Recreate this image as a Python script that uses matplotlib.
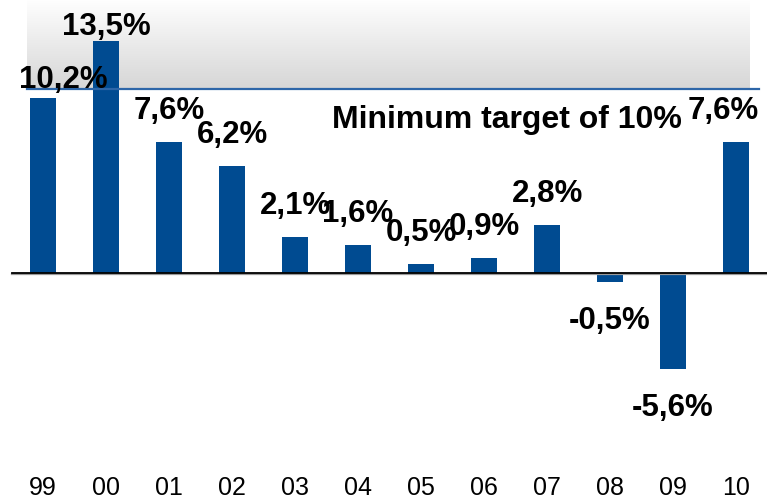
import matplotlib
matplotlib.use("Agg")
import matplotlib.pyplot as plt
import numpy as np
from matplotlib.colors import LinearSegmentedColormap

# data
years = ['99', '00', '01', '02', '03', '04', '05', '06', '07', '08', '09', '10']
growth = [10.2, 13.5, 7.6, 6.2, 2.1, 1.6, 0.5, 0.9, 2.8, -0.5, -5.6, 7.6]
target = 10.68  # where the target line sits on the value scale
target_label = 'Minimum target of 10%'

# label nudges in pixels (dx, gap from bar end)
label_dx = [20, 0, 0, 0, 0, 0, 0, 0, 0, 0, 0, -13]
label_gap = [10, 6, 23, 23, 23, 23, 23, 23, 23, 23, 23, 23]

plt.rcParams['font.family'] = ['Liberation Sans', 'DejaVu Sans']

fig = plt.figure(figsize=(7.67, 4.99), dpi=100)
ax = fig.add_axes([0, 29 / 499, 1, 470 / 499])

x = np.arange(len(years))
bar_color = '#004B91'

# shaded zone above the target
grad = np.linspace(0, 1, 256).reshape(-1, 1)
cmap = LinearSegmentedColormap.from_list('g', ['#d6d6d6', '#ffffff'])
ax.imshow(grad, cmap=cmap, aspect='auto', origin='lower',
          extent=[-0.254, 11.22, target, 15.9], zorder=0)

ax.bar(x, growth, width=0.42, color=bar_color, zorder=2)

ax.plot([-0.254, 11.37], [target, target], color='#2D66A8', lw=1.6, zorder=3)
ax.plot([-0.49, 11.6], [-0.07, -0.07], color='#9a9a9a', lw=1.6, zorder=3)
ax.plot([-0.49, 11.6], [0, 0], color='black', lw=1.3, zorder=4)

px = 0.72  # points per pixel at 100 dpi
for i, v in enumerate(growth):
    txt = f"{v:.1f}".replace('.', ',') + '%'
    if v >= 0:
        ax.annotate(txt, (x[i], v), xytext=(label_dx[i] * px, label_gap[i] * px),
                    textcoords='offset points', ha='center', va='baseline',
                    fontsize=22.5, fontweight='bold', zorder=5)
    else:
        ax.annotate(txt, (x[i], v), xytext=(label_dx[i] * px, -(label_gap[i] + 1) * px),
                    textcoords='offset points', ha='center', va='top',
                    fontsize=22.5, fontweight='bold', zorder=5)

ax.text(4.587, 8.43, target_label, ha='left', va='baseline',
        fontsize=23, fontweight='bold', zorder=5)

ax.set_xlim(-0.683, 11.49)
ax.set_ylim(-11.45, 15.87)
ax.set_xticks(x)
ax.set_xticklabels(years, fontsize=18)
ax.tick_params(axis='x', length=0, pad=4.5)
ax.set_yticks([])
for s in ax.spines.values():
    s.set_visible(False)

fig.savefig('out.png', dpi=100)
